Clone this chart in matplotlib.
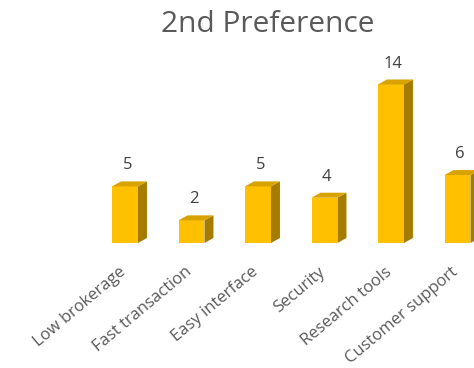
import matplotlib.pyplot as plt
from matplotlib.patches import Polygon

categories = ["Low brokerage", "Fast transaction", "Easy interface",
              "Security", "Research tools", "Customer support"]
values = [5, 2, 5, 4, 14, 6]

fig = plt.figure(figsize=(4.74, 3.68), dpi=100)
ax = fig.add_axes([0, 0.3397, 1, 0.56])

x = list(range(len(values)))
w = 0.39
dx = 0.135   # depth offset (x, data units)
dy = 0.44    # depth offset (y, data units)

front = "#FFC000"
side = "#A47C00"
top = "#D8A200"

ax.bar(x, values, width=w, color=front, zorder=2)
for xi, v in zip(x, values):
    r = xi + w / 2
    l = xi - w / 2
    ax.add_patch(Polygon([(r, 0), (r + dx, dy), (r + dx, v + dy), (r, v)],
                         closed=True, color=side, zorder=2, lw=0))
    ax.add_patch(Polygon([(l, v), (r, v), (r + dx, v + dy), (l + dx, v + dy)],
                         closed=True, color=top, zorder=2, lw=0))
    ax.text(xi + dx / 4, v + 1.85, str(v), ha="center", va="center",
            fontsize=12, color="#404040", family="Open Sans")

ax.set_xlim(-1.88, 5.248)
ax.set_ylim(0, 18.2)
ax.set_xticks([xi - 0.1 for xi in x])
ax.set_xticklabels(categories, rotation=40, ha="right", rotation_mode="anchor",
                   fontsize=12, color="#595959", family="Open Sans")
ax.tick_params(axis="x", length=0, pad=15)
ax.set_yticks([])
for s in ax.spines.values():
    s.set_visible(False)

fig.text(268 / 474, 1 - 24 / 368, "2nd Preference", ha="center", va="center",
         fontsize=21.5, color="#595959", family="Open Sans")

fig.savefig("out.png", dpi=100)
